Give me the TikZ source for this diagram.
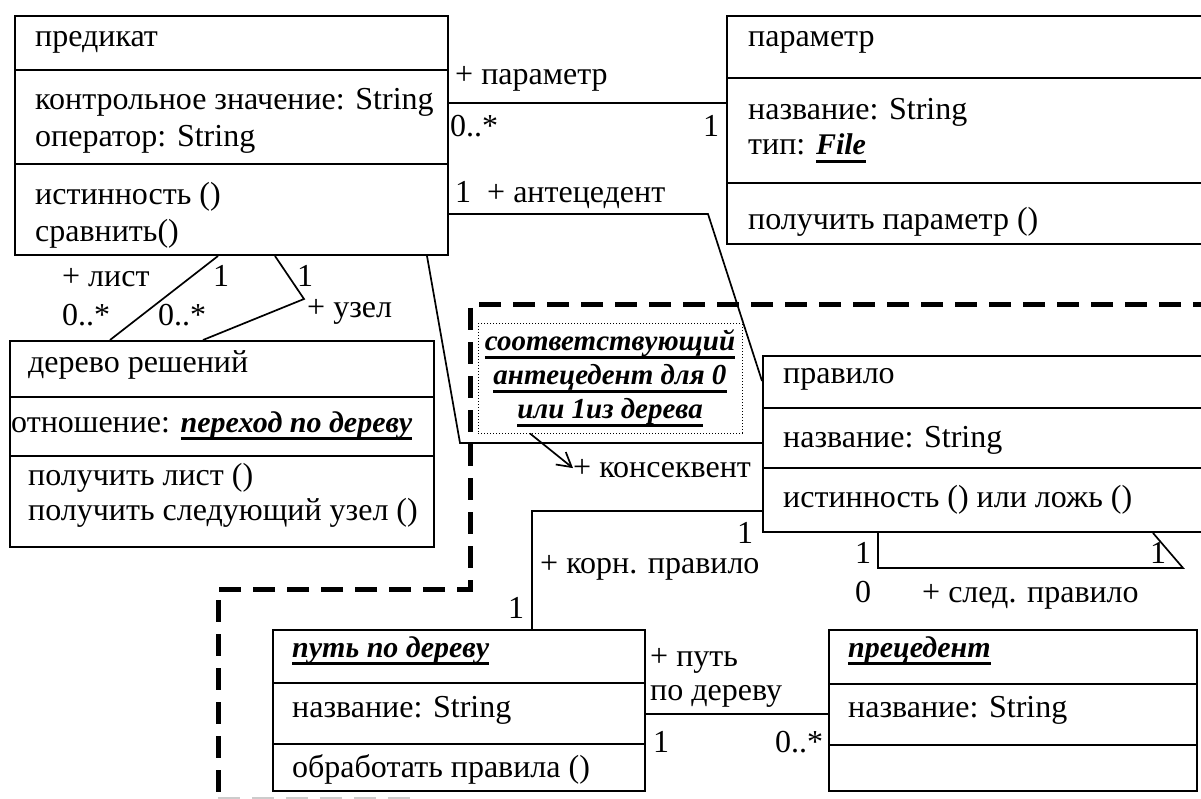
\documentclass[tikz,border=0pt]{standalone}
\usepackage{fontspec}
\setmainfont{Liberation Serif}
\usetikzlibrary{arrows.meta}
\newcommand{\picWidth}{1201}
\newcommand{\picHeight}{799}
\newcommand{\umlFont}{\fontsize{32}{36}\selectfont}
\newcommand{\noteFont}{\fontsize{29}{34}\selectfont\bfseries\itshape}
\newcommand{\uLine}[1]{\sbox0{#1}\rlap{\rule[-8pt]{\wd0}{3pt}}\usebox0}
\newcommand{\bName}[1]{\uLine{\fontsize{30}{36}\selectfont\bfseries\itshape #1}}

\begin{document}
\begin{tikzpicture}[x=1pt, y=-1pt,
    classbox/.style={draw, line width=2pt, anchor=north west, inner sep=0pt},
    sep/.style={line width=2pt},
    txt/.style={anchor=base west, inner sep=0pt, font=\umlFont},
    assoc/.style={line width=1.7pt},
    notebox/.style={draw, dotted, line width=1pt, inner sep=0pt, align=center,
      minimum width=264pt, minimum height=109pt, font=\noteFont},
    boundary/.style={line width=5pt, dash pattern=on 22pt off 12pt}]
\useasboundingbox (0,0) rectangle (\picWidth,\picHeight);
\clip (0,0) rectangle (\picWidth,\picHeight);

% package boundary
\draw[boundary] (1215,305) -- (470,305) -- (470,589) -- (218,589) -- (218,810);
\draw[boundary, line width=3pt, black!20] (218,798) -- (420,798);

% predikat
\node[classbox, minimum width=433pt, minimum height=239pt] (predikat) at (14,15) {};
\draw[sep] (predikat.west |- 0,70) -- (predikat.east |- 0,70);
\draw[sep] (predikat.west |- 0,164) -- (predikat.east |- 0,164);
\node[txt] (predName) at (35,47) {предикат};
\node[txt] (predAttrA) at (35,110) {контрольное значение: String};
\node[txt] (predAttrB) at (35,147) {оператор: String};
\node[txt] (predOpA) at (35,205) {истинность ()};
\node[txt] (predOpB) at (35,242) {сравнить()};

% parametr
\node[classbox, minimum width=489pt, minimum height=228pt] (param) at (726,15) {};
\draw[sep] (param.west |- 0,78) -- (param.east |- 0,78);
\draw[sep] (param.west |- 0,183) -- (param.east |- 0,183);
\node[txt] (paramName) at (748,47) {параметр};
\node[txt] (paramAttrA) at (748,120) {название: String};
\node[txt] (paramAttrB) at (748,155) {тип: \bName{File}};
\node[txt] (paramOp) at (748,230) {получить параметр ()};

% derevo reshenij
\node[classbox, minimum width=424pt, minimum height=206pt] (derevo) at (9,340) {};
\draw[sep] (derevo.west |- 0,397) -- (derevo.east |- 0,397);
\draw[sep] (derevo.west |- 0,456) -- (derevo.east |- 0,456);
\node[txt] (derName) at (28,372) {дерево решений};
\node[txt] (derAttr) at (11,432) {отношение: \bName{переход по дереву}};
\node[txt] (derOpA) at (28,485) {получить лист ()};
\node[txt] (derOpB) at (28,520) {получить следующий узел ()};

% pravilo
\node[classbox, minimum width=453pt, minimum height=176pt] (pravilo) at (762,355) {};
\draw[sep] (pravilo.west |- 0,408) -- (pravilo.east |- 0,408);
\draw[sep] (pravilo.west |- 0,468) -- (pravilo.east |- 0,468);
\node[txt] (pravName) at (783,383) {правило};
\node[txt] (pravAttr) at (783,447) {название: String};
\node[txt] (pravOp) at (783,507) {истинность () или ложь ()};

% put po derevu
\node[classbox, minimum width=372pt, minimum height=161pt] (put) at (272,629) {};
\draw[sep] (put.west |- 0,683) -- (put.east |- 0,683);
\draw[sep] (put.west |- 0,744) -- (put.east |- 0,744);
\node[txt] (putName) at (292,657) {\bName{путь по дереву}};
\node[txt] (putAttr) at (292,717) {название: String};
\node[txt] (putOp) at (292,777) {обработать правила ()};

% precedent
\node[classbox, minimum width=368pt, minimum height=161pt] (prec) at (828,629) {};
\draw[sep] (prec.west |- 0,684) -- (prec.east |- 0,684);
\draw[sep] (prec.west |- 0,745) -- (prec.east |- 0,745);
\node[txt] (precName) at (848,657) {\bName{прецедент}};
\node[txt] (precAttr) at (848,717) {название: String};

% note
\node[notebox] (note) at (610,378.5)
  {\uLine{соответствующий}\\ \uLine{антецедент для 0}\\ \uLine{или 1из дерева}};

% labels
\node[txt] (lblParam) at (455,85) {+ параметр};
\node[txt] (lblParamMin) at (450,137) {0..*};
\node[txt] (lblParamOne) at (703,137) {1};
\node[txt] (lblAnte) at (455,203) {1 \ + антецедент};
\node[txt] (lblList) at (62,287) {+ лист};
\node[txt] (lblListOne) at (213,287) {1};
\node[txt] (lblUzelOne) at (297,287) {1};
\node[txt] (lblListMin) at (62,325) {0..*};
\node[txt] (lblUzelMin) at (158,325) {0..*};
\node[txt] (lblUzel) at (307,318) {+ узел};
\node[txt] (lblKons) at (573,477) {+ консеквент};
\node[txt] (lblKornOne) at (737,543) {1};
\node[txt] (lblKorn) at (540,573) {+ корн. правило};
\node[txt] (lblPutOne) at (508,618) {1};
\node[txt] (lblNextA) at (855,563) {1};
\node[txt] (lblNextB) at (1150,563) {1};
\node[txt] (lblNextZero) at (855,602) {0};
\node[txt] (lblNext) at (922,602) {+ след. правило};
\node[txt] (lblPath) at (650,666) {+ путь};
\node[txt] (lblPathB) at (650,700) {по дереву};
\node[txt] (lblPathOne) at (653,752) {1};
\node[txt] (lblPathMin) at (775,752) {0..*};

% associations
\coordinate (anteBend) at (708,214);
\coordinate (konsBend) at (460,443);
\coordinate (uzelBend) at (304,299);
\coordinate (loopBend) at (1183,568);
\draw[assoc] (predikat.east |- 0,103) -- (param.west |- 0,103);
\draw[assoc] (predikat.east |- 0,214) -- (anteBend) -- (pravilo.west |- 0,381);
\draw[assoc] (predikat.south -| 427,0) -- (konsBend) -- (pravilo.west |- 0,443);
\draw[assoc] (predikat.south -| 218,0) -- (derevo.north -| 110,0);
\draw[assoc] (predikat.south -| 275,0) -- (uzelBend) -- (derevo.north -| 203,0);
\draw[assoc] (pravilo.west |- 0,511) -| (put.north -| 532,0);
\draw[assoc] (pravilo.south -| 878,0) |- (loopBend) -- (pravilo.south -| 1153,0);
\draw[assoc] (put.east |- 0,714) -- (prec.west |- 0,714);
\draw[assoc, -{Straight Barb[length=14pt, width=16pt]}] (note.south -| 530,0) -- (lblKons.west);
\end{tikzpicture}
\end{document}
